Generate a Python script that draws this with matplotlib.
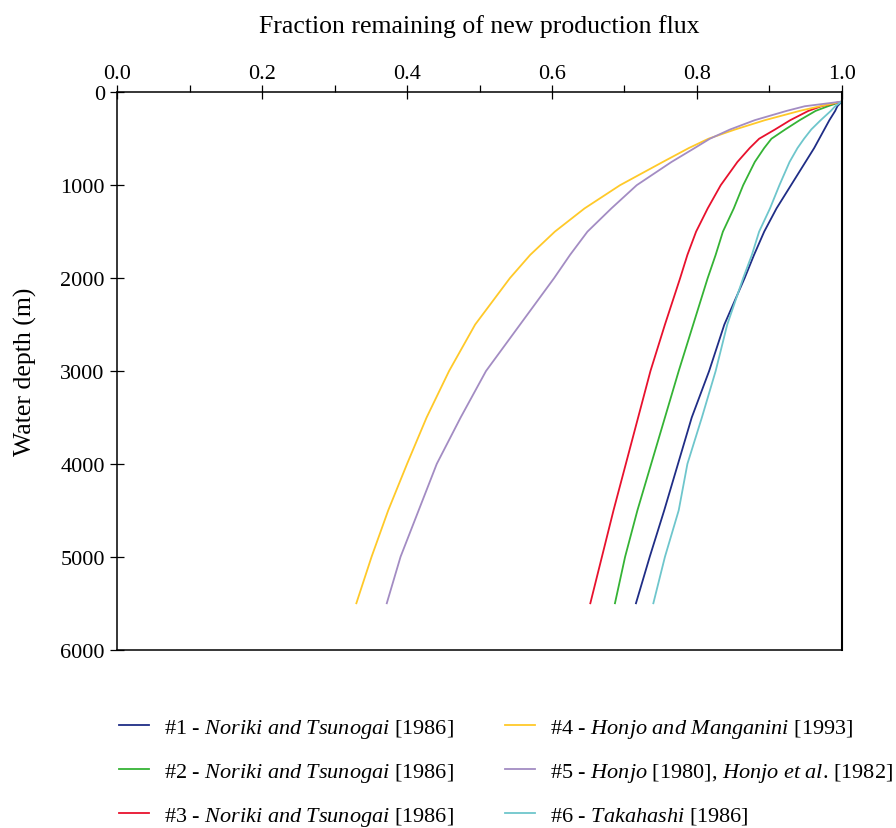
import matplotlib
matplotlib.use("Agg")
import matplotlib.pyplot as plt
from matplotlib.ticker import MultipleLocator, FormatStrFormatter

plt.rcParams['font.family'] = ['Liberation Serif', 'DejaVu Serif']
plt.rcParams['mathtext.fontset'] = 'custom'
plt.rcParams['mathtext.rm'] = 'Liberation Serif'
plt.rcParams['mathtext.it'] = 'Liberation Serif:italic'

# Depths (m) at which the curves were read
depth = [100, 150, 200, 300, 400, 500, 600, 750, 1000, 1250, 1500, 1750, 2000,
         2500, 3000, 3500, 4000, 4500, 5000, 5500]

# Fraction remaining of new production flux for each curve
s1 = [1.0, 0.994, 0.991, 0.983, 0.976, 0.969, 0.962, 0.950, 0.930, 0.910, 0.893, 0.879, 0.866,
      0.838, 0.817, 0.793, 0.774, 0.755, 0.735, 0.716]
s2 = [1.0, 0.981, 0.964, 0.942, 0.922, 0.903, 0.893, 0.880, 0.864, 0.851, 0.836, 0.826, 0.815,
      0.795, 0.775, 0.756, 0.737, 0.718, 0.701, 0.687]
s3 = [1.0, 0.972, 0.954, 0.929, 0.908, 0.886, 0.873, 0.856, 0.833, 0.815, 0.799, 0.787, 0.777,
      0.756, 0.736, 0.719, 0.702, 0.685, 0.669, 0.653]
s4 = [1.0, 0.970, 0.942, 0.894, 0.853, 0.816, 0.789, 0.753, 0.694, 0.645, 0.604, 0.570, 0.542,
      0.494, 0.458, 0.427, 0.400, 0.374, 0.351, 0.330]
s5 = [1.0, 0.949, 0.924, 0.880, 0.846, 0.818, 0.797, 0.765, 0.717, 0.682, 0.649, 0.625, 0.603,
      0.556, 0.509, 0.474, 0.441, 0.416, 0.391, 0.372]
s6 = [1.0, 0.991, 0.985, 0.971, 0.958, 0.948, 0.939, 0.928, 0.914, 0.901, 0.886, 0.876, 0.864,
      0.842, 0.826, 0.807, 0.787, 0.775, 0.756, 0.740]

labels = [
    r"#1 - $\it{Noriki\ and\ Tsunogai}$ [1986]",
    r"#2 - $\it{Noriki\ and\ Tsunogai}$ [1986]",
    r"#3 - $\it{Noriki\ and\ Tsunogai}$ [1986]",
    r"#4 - $\it{Honjo\ and\ Manganini}$ [1993]",
    r"#5 - $\it{Honjo}$ [1980], $\it{Honjo\ et\ al}$. [1982]",
    r"#6 - $\it{Takahashi}$ [1986]",
]
colors = ['#1f2d86', '#35b335', '#e8112d', '#ffc929', '#a38cc3', '#6ec6cc']
series = [s1, s2, s3, s4, s5, s6]

fig = plt.figure(figsize=(8.96, 8.29), dpi=100)
ax = fig.add_axes([117.3/896, 1-650.7/829, (841.7-117.3)/896, (650.7-93.3)/829])

handles = []
for s, c, lab in zip(series, colors, labels):
    h, = ax.plot(s, depth, color=c, lw=1.3, label=lab)
    handles.append(h)

ax.set_xlim(0, 1)
ax.set_ylim(6000, 0)
ax.xaxis.tick_top()
ax.xaxis.set_label_position('top')
ax.xaxis.set_major_locator(MultipleLocator(0.2))
ax.xaxis.set_minor_locator(MultipleLocator(0.1))
ax.xaxis.set_major_formatter(FormatStrFormatter('%.1f'))
ax.yaxis.set_major_locator(MultipleLocator(1000))

ax.tick_params(axis='x', which='major', direction='inout', length=10, width=0.9,
               labelsize=16, pad=2, top=True, bottom=False)
ax.tick_params(axis='x', which='minor', direction='out', length=5, width=0.9,
               top=True, bottom=False)
ax.tick_params(axis='y', which='major', direction='inout', length=10, width=0.9,
               labelsize=16, pad=4, left=True, right=False)
for sp in ax.spines.values():
    sp.set_linewidth(1.1)
ax.spines['right'].set_linewidth(1.5)

ax.set_xlabel("Fraction remaining of new production flux", fontsize=18.5)
ax.set_ylabel("Water depth (m)", fontsize=18.5)
ax.xaxis.set_label_coords(0.5, 1.108)
ax.yaxis.set_label_coords(-0.111, 0.5)

fig.legend(handles, labels,
           loc='upper left', bbox_to_anchor=(119/896, 1-718/829), ncol=2,
           frameon=False, fontsize=16, handlelength=1.35, handletextpad=0.68,
           labelspacing=0.95, columnspacing=2.3, borderpad=0, borderaxespad=0)

fig.savefig("out.png", dpi=100)
